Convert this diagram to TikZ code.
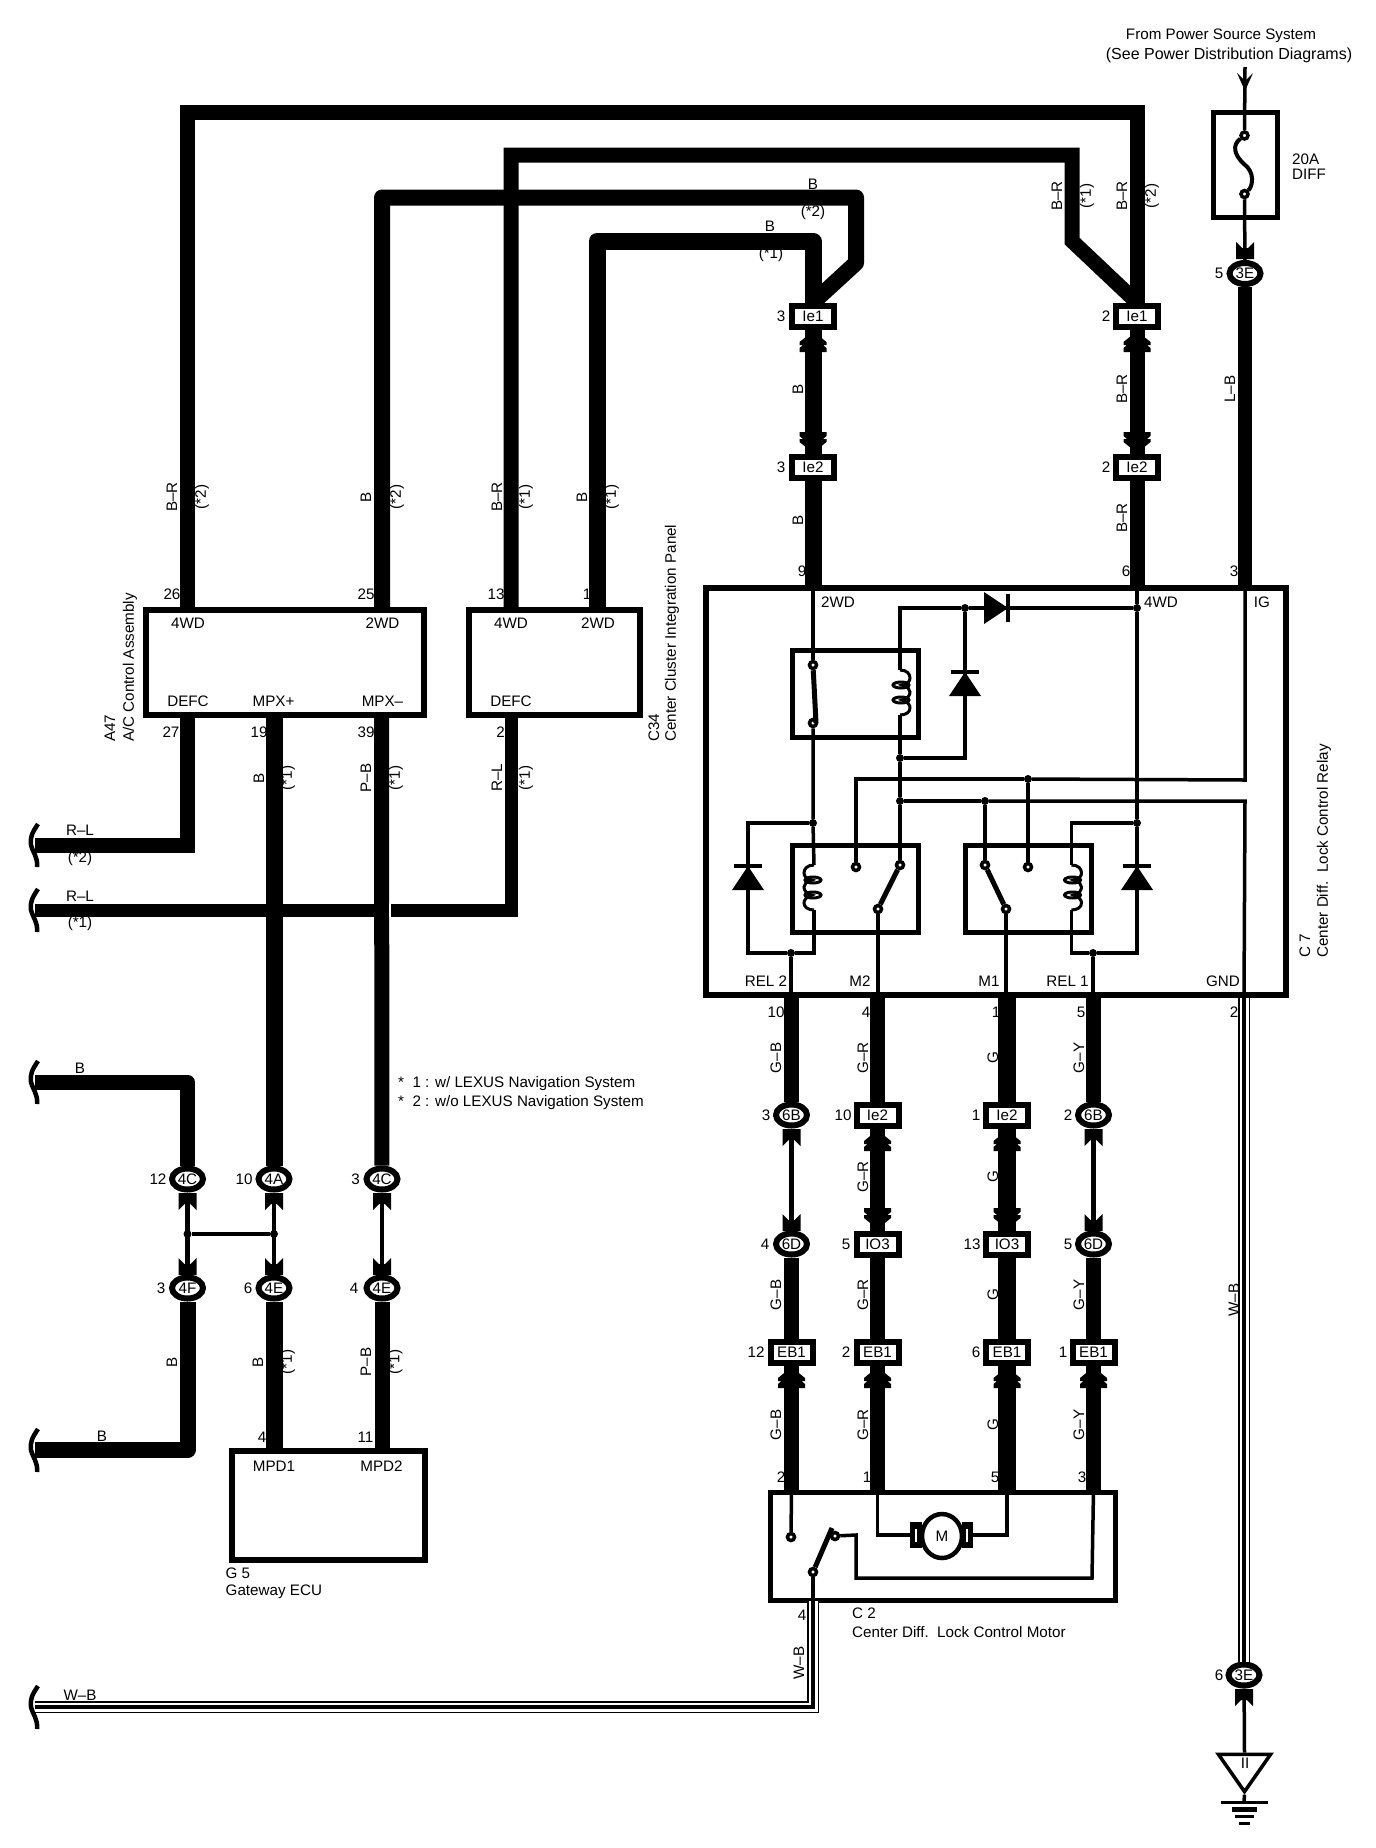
\documentclass[tikz,border=0pt]{standalone}
\usepackage{fontspec}
\setmainfont{Liberation Sans}
\usetikzlibrary{shapes.geometric}
\tikzset{
  lab/.style={font=\fontsize{15.2}{17}\selectfont,inner sep=0pt},
  vlab/.style={lab,rotate=90},
  vtext/.style={lab,rotate=90,anchor=west},
  conn/.style={lab,draw,fill=white,line width=6,minimum width=42,minimum height=21},
  oval/.style={lab,ellipse,draw,fill=white,line width=6,minimum width=31,minimum height=21},
  block/.style={draw,line width=6,inner sep=0pt},
  relaybox/.style={draw,line width=5,inner sep=0pt,minimum width=126,minimum height=87},
  dot/.style={circle,fill=black,inner sep=0pt,minimum size=8},
  cont/.style={circle,draw,fill=white,line width=3.5,inner sep=0pt,minimum size=7},
  wire/.style={line width=#1},
  thin wire/.style={line width=3.5},
  blade/.style={line width=5},
  wb/.style={line width=3.5,preaction={draw,line width=12},preaction={draw,white,line width=9}},
  pics/dhead/.style={code={\fill (0,0)--(13.5,11)--(13.5,14)--(10,14)--(13.5,17)--(13.5,21)--(-13.5,21)--(-13.5,17)--(-10,14)--(-13.5,14)--(-13.5,11)--cycle;}},
  pics/shead/.style={code={\fill (-9,0)--(9,0)--(9,17)--(3,11)--(-3,11)--(-9,17)--cycle;}},
  pics/vhead/.style={code={\fill (0,0)--(8,-18)--(1,-11)--(-1,-11)--(-8,-18)--cycle;}},
  pics/diode/.style={code={\fill (0,0)--(16,24)--(-16,24)--cycle;\draw[line width=3.5] (-14,0)--(14,0);}},
  pics/coil/.style={code={
    \draw[line width=3] (0,0) .. controls (7,0) and (10,4) .. (10,8) .. controls (10,11) and (8,14) .. (2,15)
      .. controls (8,17) and (10,19) .. (10,22) .. controls (10,25) and (8,29) .. (2,30)
      .. controls (8,32) and (10,35) .. (10,38) .. controls (10,42) and (6,45) .. (0,45);
    \draw[line width=3] (1,15) ellipse (8 and 3);
    \draw[line width=3] (1,30) ellipse (8 and 3);}},
  pics/wavy/.style={code={\draw[line width=4.5] (3,-21) .. controls (-3,-12) and (-5,-8) .. (-4,0) .. controls (-2,8) and (3,12) .. (2,22);}},
}
\begin{document}
\begin{tikzpicture}[x=1pt,y=-1pt]
\useasboundingbox (0,0) rectangle (1376,1848);
% units
\node[block,minimum width=278,minimum height=105] (acunit) at (285,662.5) {};
\node[block,minimum width=171,minimum height=105] (panel) at (554.5,662.5) {};
\node[block,minimum width=580,minimum height=407] (relay) at (996,791.5) {};
\node[block,minimum width=193,minimum height=109] (gateway) at (328,1505) {};
\node[block,line width=5,minimum width=345,minimum height=108] (motorbox) at (943,1546.5) {};
\node[block,line width=5.5,minimum width=64,minimum height=105] (fuse) at (1245.5,165) {};
% connectors
\node[conn] (ieA) at (813,316) {Ie1};
\node[conn] (ieB) at (813,467) {Ie2};
\node[conn] (ieC) at (1137,316) {Ie1};
\node[conn] (ieD) at (1137,467) {Ie2};
\node[oval] (srcA) at (1245,273.5) {3E};
\node[oval] (srcB) at (1244,1675) {3E};
\node[oval] (rowA) at (791.5,1115) {6B};
\node[conn] (rowB) at (877.5,1115) {Ie2};
\node[conn] (rowC) at (1007,1115) {Ie2};
\node[oval] (rowD) at (1093.5,1115) {6B};
\node[oval] (midA) at (791.5,1244) {6D};
\node[conn] (midB) at (877.5,1244) {IO3};
\node[conn] (midC) at (1007,1244) {IO3};
\node[oval] (midD) at (1093.5,1244) {6D};
\node[conn] (ebA) at (791.5,1352) {EB1};
\node[conn] (ebB) at (877.5,1352) {EB1};
\node[conn] (ebC) at (1007,1352) {EB1};
\node[conn] (ebD) at (1093.5,1352) {EB1};
\node[oval] (fourA) at (187.5,1179) {4C};
\node[oval] (fourB) at (274,1179) {4A};
\node[oval] (fourC) at (382,1179) {4C};
\node[oval] (fourD) at (187.5,1288) {4F};
\node[oval] (fourE) at (274,1288) {4E};
\node[oval] (fourF) at (382,1288) {4E};
% free ends
\coordinate (endA) at (35,845);
\coordinate (endB) at (35,910);
\coordinate (endC) at (35,1082);
\coordinate (endD) at (35,1450);
\coordinate (endE) at (35,1707);
\coordinate (pwrin) at (1245,67);
\coordinate (earth) at (1244,1802);
\coordinate (topA) at (1137,112);
\coordinate (topB) at (1072,155);
\coordinate (bendB) at (1072,241);
\coordinate (topC) at (856,197.5);
\coordinate (bendC) at (856,263);
\coordinate (topD) at (813,241);
\coordinate (cornA) at (187.5,1082);
\coordinate (cornB) at (187.5,1450);
% wires
\draw[wire=15] (187.5,607)--(187.5,112)--(topA)--(ieC);
\draw[wire=15] (511,607)--(511,155)--(topB)--(bendB)--(ieC.north);
\draw[wire=16,line join=round] (382,607)--(382,197.5)--(topC)--(bendC)--(ieA.north);
\draw[wire=17,line join=round] (597,607)--(597,241)--(topD)--(ieA);
\draw[wire=17] (ieA)--(ieB);
\draw[wire=17] (ieB)--(ieB |- relay.north);
\draw[wire=15] (ieC)--(ieD);
\draw[wire=15] (ieD)--(ieD |- relay.north);
\draw[wire=14] (srcA)--(srcA |- relay.north);
\draw[wire=15] (187.5,718)--(187.5,845)--(endA);
\draw[wire=13] (511,718)--(511,910)--(endB);
\draw[wire=17] (274,712)--(fourB);
\draw[wire=15] (381.5,718)--(fourC);
\draw[white,line width=1.5] (390,903)--(390,917);
\draw[wire=15,line join=round] (endC)--(cornA)--(fourA);
\draw[wire=16,line join=round] (fourD)--(cornB)--(endD);
\draw[wire=17] (fourE)--(fourE |- gateway.north);
\draw[wire=15] (fourF)--(fourF |- gateway.north);
\draw[line width=4.5] (fourA)--(fourD);
\draw[line width=4.5] (fourB)--(fourE);
\draw[thin wire] (fourC)--(fourF);
\node[dot] (brA) at (187.5,1234) {};
\node[dot] (brB) at (274,1234) {};
\draw[line width=4] (brA)--(brB);
\draw[wire=15] (rowA |- relay.south)--(rowA);
\draw[wire=15] (rowB |- relay.south)--(rowB);
\draw[wire=18] (rowC |- relay.south)--(rowC);
\draw[wire=15] (rowD |- relay.south)--(rowD);
\draw[wire=5] (rowA)--(midA);
\draw[wire=15] (rowB)--(midB);
\draw[wire=18] (rowC)--(midC);
\draw[wire=5] (rowD)--(midD);
\draw[wire=15] (midA)--(ebA);
\draw[wire=15] (midB)--(ebB);
\draw[wire=18] (midC)--(ebC);
\draw[wire=15] (midD)--(ebD);
\draw[wire=15] (ebA)--(ebA |- motorbox.north);
\draw[wire=15] (ebB)--(ebB |- motorbox.north);
\draw[wire=18] (ebC)--(ebC |- motorbox.north);
\draw[wire=15] (ebD)--(ebD |- motorbox.north);
\draw[wb] (srcB |- relay.south)--(srcB);
\draw[wb] (813,1601)--(813,1707)--(endE);
% wire ends
\pic at (endA) {wavy};
\pic at (endB) {wavy};
\pic at (endC) {wavy};
\pic at (endD) {wavy};
\pic at (endE) {wavy};
% terminals
\pic at (813,331) {dhead};
\pic at (1137,331) {dhead};
\pic[yscale=-1] at (813,453) {dhead};
\pic[yscale=-1] at (1137,453) {dhead};
\pic at (877.5,1130) {dhead};
\pic at (1007,1130) {dhead};
\pic[yscale=-1] at (877.5,1229) {dhead};
\pic[yscale=-1] at (1007,1229) {dhead};
\pic at (791.5,1367) {dhead};
\pic at (877.5,1367) {dhead};
\pic at (1007,1367) {dhead};
\pic at (1093.5,1367) {dhead};
\pic at (791.5,1129) {shead};
\pic at (1093.5,1129) {shead};
\pic[yscale=-1] at (791.5,1231) {shead};
\pic[yscale=-1] at (1093.5,1231) {shead};
\pic at (187.5,1193) {shead};
\pic at (274,1193) {shead};
\pic at (382,1193) {shead};
\pic[yscale=-1] at (187.5,1275) {shead};
\pic[yscale=-1] at (274,1275) {shead};
\pic[yscale=-1] at (382,1275) {shead};
\pic[yscale=-1] at (1245,259) {shead};
\pic at (1244,1689) {shead};
\pic at (1245,91) {vhead};
% fuse
\node[cont] (fuseA) at (1244.5,135.5) {};
\node[cont] (fuseB) at (1244.5,194) {};
\draw[thin wire] (pwrin)--(fuseA);
\draw[thin wire] (fuseB)--(srcA);
\draw[line width=4] (fuseA) .. controls (1232,145) and (1234,155) .. (1244,164) .. controls (1255,172) and (1253,186) .. (fuseB);
% relay unit
\node[relaybox] (relA) at (855.5,693.5) {};
\node[relaybox] (relB) at (855.5,888.5) {};
\node[relaybox] (relC) at (1028.5,888.5) {};
\node[dot] (jA) at (965,608) {};
\node[dot] (jB) at (1137,608) {};
\node[dot] (jC) at (900,758) {};
\node[dot] (jD) at (900,801) {};
\node[dot] (jE) at (1028,779) {};
\node[dot] (jF) at (985,801) {};
\node[dot] (jG) at (813,823) {};
\node[dot] (jH) at (1137,823) {};
\node[dot] (jI) at (791,953) {};
\node[dot] (jJ) at (1093,953) {};
\node[cont] (ctA) at (813,665) {};
\node[cont] (ctB) at (813,723) {};
\node[cont] (ctC) at (856,867) {};
\node[cont] (ctD) at (900,865) {};
\node[cont] (ctE) at (878,909) {};
\node[cont] (ctF) at (985,865) {};
\node[cont] (ctG) at (1028,867) {};
\node[cont] (ctH) at (1006,909) {};
\coordinate (coilA) at (900,670);
\coordinate (coilAe) at (900,715);
\coordinate (coilB) at (814,865);
\coordinate (coilBe) at (814,910);
\coordinate (coilC) at (1071.5,865);
\coordinate (coilCe) at (1071.5,910);
\pic at (coilA) {coil};
\pic[xscale=-1] at (coilB) {coil};
\pic at (coilC) {coil};
\draw[thin wire] (ieB |- relay.north)--(ctA);
\draw[blade] (ctA)--(816,723);
\draw[thin wire] (ctB)--(jG)--(coilB);
\draw[thin wire] (coilBe)--(814,953)--(jI);
\draw[thin wire] (jG)--(748,823)--(748,953)--(jI);
\draw[thin wire] (jI)--(jI |- relay.south);
\draw[thin wire] (ieD |- relay.north)--(jB)--(jH);
\draw[thin wire] (jH)--(1137,953)--(jJ);
\draw[thin wire] (jH)--(1071.5,823)--(coilC);
\draw[thin wire] (coilCe)--(1071.5,953)--(jJ);
\draw[thin wire] (jJ)--(jJ |- relay.south);
\draw[thin wire] (coilA)--(900,608)--(jA);
\draw[thin wire] (jA)--(jB);
\draw[thin wire] (coilAe)--(jC);
\draw[thin wire] (jC)--(jD)--(ctD);
\draw[thin wire] (jC)--(965,758)--(jA);
\draw[thin wire] (srcA |- relay.north)--(1245,780)--(jE);
\draw[thin wire] (jE)--(856,779)--(ctC);
\draw[thin wire] (jE)--(ctG);
\draw[thin wire] (jD)--(jF);
\draw[thin wire] (jF)--(1245,801)--(srcB |- relay.south);
\draw[thin wire] (jF)--(ctF);
\draw[blade] (ctD)--(ctE);
\draw[blade] (ctF)--(ctH);
\draw[thin wire] (ctE)--(ctE |- relay.south);
\draw[thin wire] (ctH)--(ctH |- relay.south);
\pic[rotate=-90] at (1008,608) {diode};
\pic at (965,672) {diode};
\pic at (748,866) {diode};
\pic at (1137,866) {diode};
% motor unit
\fill (910,1522) rectangle (922,1548);
\fill (962,1522) rectangle (973,1548);
\draw[white,line width=1.5] (916,1529)--(916,1542);
\draw[white,line width=1.5] (967,1529)--(967,1542);
\node[lab,ellipse,draw,fill=white,line width=4.5,minimum width=40,minimum height=44] (motor) at (942,1536) {M};
\node[cont] (ctI) at (791,1537) {};
\node[cont] (ctJ) at (835,1536) {};
\node[cont] (ctK) at (813,1572) {};
\draw[thin wire] (ebA |- motorbox.north)--(ctI);
\draw[thin wire] (ebB |- motorbox.north)--(877.5,1535)--(910,1535);
\draw[thin wire] (ebC |- motorbox.north)--(1007,1535)--(973,1535);
\draw[thin wire] (ebD |- motorbox.north)--(1092,1578)--(856,1578)--(856,1535)--(ctJ);
\draw[blade] (ctK)--(832,1528);
\draw[thin wire] (ctK)--(ctK |- motorbox.south);
% earth
\node[isosceles triangle,isosceles triangle apex angle=70,shape border rotate=-90,draw,line width=3.5,inner sep=0pt,minimum height=37,minimum width=52] (earthbox) at (1244.5,1768) {};
\node[lab] (earthtxt) at (1245,1763) {II};
\draw[thin wire] (srcB)--(earthbox.north);
\draw[thin wire] (earthbox.south)--(earth);
\draw[line width=3] (1221,1802)--(1268,1802);
\draw[line width=5] (1232,1809)--(1257,1809);
\draw[line width=3] (1235,1816)--(1254,1816);
\draw[line width=3] (1239,1823)--(1250,1823);
% texts of the power source
\node[lab] (srcTa) at (1221,36) {From Power Source System};
\node[lab,font=\fontsize{16}{17}\selectfont] (srcTb) at (1229,55) {(See Power Distribution Diagrams)};
\node[lab,anchor=west] (fuseTa) at (1292,159) {20A};
\node[lab,anchor=west] (fuseTb) at (1292,174) {DIFF};
% unit names
\node[vtext] (acTa) at (110,742) {A47};
\node[vtext] (acTb) at (130,742) {A/C Control Assembly};
\node[vtext] (paTa) at (654,742) {C34};
\node[vtext] (paTb) at (672,742) {Center Cluster Integration Panel};
\node[vtext] (reTa) at (1305,958) {C 7};
\node[vtext] (reTb) at (1324,958) {Center Diff.~~Lock Control Relay};
\node[lab,anchor=west] (gwTa) at (225.5,1573) {G 5};
\node[lab,anchor=west] (gwTb) at (225.5,1592) {Gateway ECU};
\node[lab,anchor=west] (moTa) at (852,1613) {C 2};
\node[lab,anchor=west] (moTb) at (852,1632) {Center Diff.~~Lock Control Motor};
\node[lab,anchor=west] (noteA) at (398,1084) {*~~1 : w/ LEXUS Navigation System};
\node[lab,anchor=west] (noteB) at (398,1103) {*~~2 : w/o LEXUS Navigation System};
% terminal names
\node[lab] (nmA) at (188,623) {4WD};
\node[lab] (nmB) at (382.5,623) {2WD};
\node[lab] (nmC) at (188,701) {DEFC};
\node[lab] (nmD) at (273.6,701) {MPX+};
\node[lab] (nmE) at (382.5,701) {MPX–};
\node[lab] (nmF) at (511,623) {4WD};
\node[lab] (nmG) at (598,623) {2WD};
\node[lab] (nmH) at (511,701) {DEFC};
\node[lab] (nmI) at (838,602) {2WD};
\node[lab] (nmJ) at (1161,602) {4WD};
\node[lab] (nmK) at (1262,602) {IG};
\node[lab] (nmL) at (766,981) {REL 2};
\node[lab] (nmM) at (860,981) {M2};
\node[lab] (nmN) at (989,981) {M1};
\node[lab] (nmO) at (1067.5,981) {REL 1};
\node[lab] (nmP) at (1223,981) {GND};
\node[lab] (nmQ) at (274,1466) {MPD1};
\node[lab] (nmR) at (381.5,1466) {MPD2};
% pins
\node[lab] (pnA) at (172,594) {26};
\node[lab] (pnB) at (366,594) {25};
\node[lab] (pnC) at (496,594) {13};
\node[lab] (pnD) at (587,594) {1};
\node[lab] (pnE) at (171,732) {27};
\node[lab] (pnF) at (259,732) {19};
\node[lab] (pnG) at (366,732) {39};
\node[lab] (pnH) at (500.5,732) {2};
\node[lab] (pnI) at (781,316) {3};
\node[lab] (pnJ) at (781,467) {3};
\node[lab] (pnK) at (1106,316) {2};
\node[lab] (pnL) at (1106,467) {2};
\node[lab] (pnM) at (1219,273.5) {5};
\node[lab] (pnN) at (802,571) {9};
\node[lab] (pnO) at (1126,571) {6};
\node[lab] (pnP) at (1234,571) {3};
\node[lab] (pnQ) at (776,1012) {10};
\node[lab] (pnR) at (866,1012) {4};
\node[lab] (pnS) at (996,1012) {1};
\node[lab] (pnT) at (1081,1012) {5};
\node[lab] (pnU) at (1234,1012) {2};
\node[lab] (pnV) at (766,1115) {3};
\node[lab] (pnW) at (843,1115) {10};
\node[lab] (pnX) at (976,1115) {1};
\node[lab] (pnY) at (1068,1115) {2};
\node[lab] (pnZ) at (765,1244) {4};
\node[lab] (poA) at (846,1244) {5};
\node[lab] (poB) at (972,1244) {13};
\node[lab] (poC) at (1068,1244) {5};
\node[lab] (poD) at (756,1352) {12};
\node[lab] (poE) at (846,1352) {2};
\node[lab] (poF) at (976,1352) {6};
\node[lab] (poG) at (1063,1352) {1};
\node[lab] (poH) at (781,1477) {2};
\node[lab] (poI) at (867,1477) {1};
\node[lab] (poJ) at (995,1477) {5};
\node[lab] (poK) at (1082,1477) {3};
\node[lab] (poL) at (802,1615) {4};
\node[lab] (poM) at (1219,1675) {6};
\node[lab] (poN) at (158,1179) {12};
\node[lab] (poO) at (244,1179) {10};
\node[lab] (poP) at (355.5,1179) {3};
\node[lab] (poQ) at (161,1288) {3};
\node[lab] (poR) at (248,1288) {6};
\node[lab] (poS) at (354,1288) {4};
\node[lab] (poT) at (262,1437) {4};
\node[lab] (poU) at (365.5,1437) {11};
% wire colours, level
\node[lab] (clA) at (813,184) {B};
\node[lab] (clB) at (813,213) {(*2)};
\node[lab] (clC) at (770,226) {B};
\node[lab] (clD) at (771,255) {(*1)};
\node[lab] (clE) at (80,830) {R–L};
\node[lab] (clF) at (80,859) {(*2)};
\node[lab] (clG) at (80,896) {R–L};
\node[lab] (clH) at (80,924) {(*1)};
\node[lab] (clI) at (80,1068) {B};
\node[lab] (clJ) at (102,1436) {B};
\node[lab] (clK) at (80,1695) {W–B};
% wire colours, upright
\node[vlab] (cvA) at (172,497) {B–R};
\node[vlab] (cvB) at (202,497) {(*2)};
\node[vlab] (cvC) at (366,497) {B};
\node[vlab] (cvD) at (397,497) {(*2)};
\node[vlab] (cvE) at (497,497) {B–R};
\node[vlab] (cvF) at (526,497) {(*1)};
\node[vlab] (cvG) at (582,497) {B};
\node[vlab] (cvH) at (612,497) {(*1)};
\node[vlab] (cvI) at (259,778) {B};
\node[vlab] (cvJ) at (288,778) {(*1)};
\node[vlab] (cvK) at (366,778) {P–B};
\node[vlab] (cvL) at (396,778) {(*1)};
\node[vlab] (cvM) at (497,778) {R–L};
\node[vlab] (cvN) at (526,778) {(*1)};
\node[vlab] (cvO) at (1057,196) {B–R};
\node[vlab] (cvP) at (1087,196) {(*1)};
\node[vlab] (cvQ) at (1122,196) {B–R};
\node[vlab] (cvR) at (1152,196) {(*2)};
\node[vlab] (cvS) at (798,389) {B};
\node[vlab] (cvT) at (798,520) {B};
\node[vlab] (cvU) at (1122,389) {B–R};
\node[vlab] (cvV) at (1122,518) {B–R};
\node[vlab] (cvW) at (1230,389) {L–B};
\node[vlab] (cvX) at (776,1058) {G–B};
\node[vlab] (cvY) at (863,1058) {G–R};
\node[vlab] (cvZ) at (993,1058) {G};
\node[vlab] (cwA) at (1079,1058) {G–Y};
\node[vlab] (cwB) at (863,1177) {G–R};
\node[vlab] (cwC) at (993,1177) {G};
\node[vlab] (cwD) at (776,1295) {G–B};
\node[vlab] (cwE) at (863,1295) {G–R};
\node[vlab] (cwF) at (993,1295) {G};
\node[vlab] (cwG) at (1079,1295) {G–Y};
\node[vlab] (cwH) at (776,1425) {G–B};
\node[vlab] (cwI) at (863,1425) {G–R};
\node[vlab] (cwJ) at (993,1425) {G};
\node[vlab] (cwK) at (1079,1425) {G–Y};
\node[vlab] (cwL) at (172,1362) {B};
\node[vlab] (cwM) at (258,1362) {B};
\node[vlab] (cwN) at (288,1362) {(*1)};
\node[vlab] (cwO) at (366,1362) {P–B};
\node[vlab] (cwP) at (395.5,1362) {(*1)};
\node[vlab] (cwQ) at (799,1663) {W–B};
\node[vlab] (cwR) at (1234,1300) {W–B};
\end{tikzpicture}
\end{document}
